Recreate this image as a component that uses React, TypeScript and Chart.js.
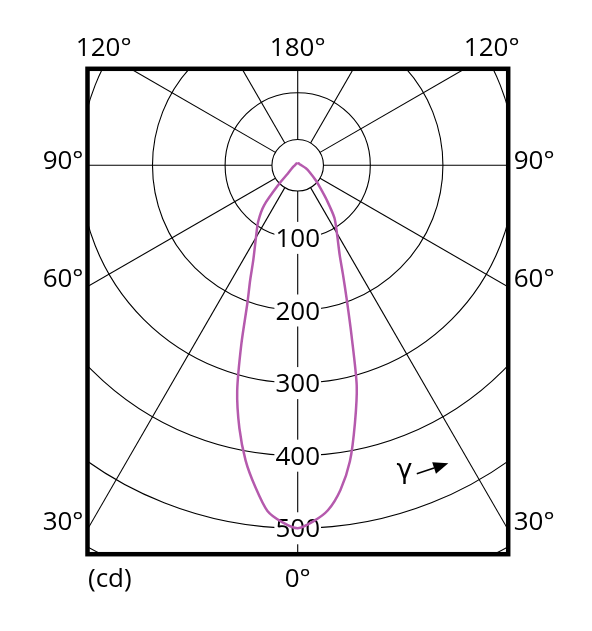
import React, { useEffect, useRef } from "react";
import { Chart, registerables } from "chart.js";

Chart.register(...registerables);

// Vertical angle gamma (deg, 0 = straight down) and luminous intensity (cd)
const ANGLES = [0, 2.5, 5, 7.5, 10, 12.5, 15, 17.5, 20, 22.5, 25, 30, 35, 40, 45, 50, 60, 70, 90, 120, 150, 180];
const CD_RIGHT = [500, 491, 477, 451, 414, 364, 314, 247, 198, 163, 137, 108, 88, 62, 44, 33, 19, 12, 5, 3, 3, 3];
const CD_LEFT = [500, 492, 478, 447, 413, 371, 322, 258, 203, 171, 145, 115, 95, 72, 36, 18, 10, 7, 4, 3, 3, 3];

// Polar grid
const RINGS = [100, 200, 300, 400, 500, 600];
const RING_LABELS = [100, 200, 300, 400, 500];
const HOLE_CD = 35.5;
const SPOKE_END_CD = 900;
const SPOKES = [0, 30, 60, 90, 120, 150, 180, 210, 240, 270, 300, 330];

// Angle labels
const SIDE_ANGLES = [90, 60, 30];
const SIDE_LABELS = ["90°", "60°", "30°"];
const SIDE_LABEL_DY = [4, 0, 0];
const TOP_LABELS = ["120°", "180°", "120°"];
const BOTTOM_LABEL = "0°";
const UNIT_LABEL = "(cd)";
const GAMMA_LABEL = "γ";

// Axis extents in cd
const X_MIN = -289.5;
const X_MAX = 289.9;
const Y_MIN = -535.7;
const Y_MAX = 132.9;

// gamma-arrow annotation (cd coordinates)
const GAMMA_POS = { x: 147, y: -421 };
const ARROW_FROM = { x: 164, y: -425 };
const ARROW_TO = { x: 207.4, y: -410.5 };

const CURVE_COLOR = "#b55aad";
const FONT = '500 26px "Open Sans", "Liberation Sans", sans-serif';

const rad = (d: number) => (d * Math.PI) / 180;

const polarPlugin = {
  id: "polarGrid",
  beforeDatasetsDraw(chart: any) {
    const { ctx, chartArea: a, scales } = chart;
    const xs = scales.x;
    const ys = scales.y;
    const cx = xs.getPixelForValue(0);
    const cy = ys.getPixelForValue(0);
    const r = (v: number) => xs.getPixelForValue(v) - cx;
    ctx.save();
    ctx.beginPath();
    ctx.rect(a.left, a.top, a.right - a.left, a.bottom - a.top);
    ctx.clip();
    ctx.strokeStyle = "#000";
    ctx.lineWidth = 1.1;
    [HOLE_CD, ...RINGS].forEach((ring) => {
      ctx.beginPath();
      ctx.arc(cx, cy, r(ring), 0, Math.PI * 2);
      ctx.stroke();
    });
    SPOKES.forEach((g) => {
      const s = Math.sin(rad(g));
      const c = Math.cos(rad(g));
      const r0 = r(HOLE_CD);
      const r1 = r(SPOKE_END_CD);
      ctx.beginPath();
      ctx.moveTo(cx + r0 * s, cy + r0 * c);
      ctx.lineTo(cx + r1 * s, cy + r1 * c);
      ctx.stroke();
    });
    ctx.font = FONT;
    ctx.textAlign = "center";
    ctx.textBaseline = "alphabetic";
    RING_LABELS.forEach((v) => {
      const ly = ys.getPixelForValue(-v);
      const w = ctx.measureText(String(v)).width;
      ctx.fillStyle = "#fff";
      ctx.fillRect(cx - w / 2 - 1, ly - 16, w + 2, 32);
      ctx.fillStyle = "#000";
      ctx.fillText(String(v), cx, ly + 9.2);
    });
    ctx.restore();
  },
  afterDatasetsDraw(chart: any) {
    const { ctx, chartArea: a, scales } = chart;
    const xs = scales.x;
    const ys = scales.y;
    const cx = xs.getPixelForValue(0);
    const cy = ys.getPixelForValue(0);
    ctx.save();
    // frame
    ctx.strokeStyle = "#000";
    ctx.lineWidth = 4.5;
    ctx.strokeRect(a.left, a.top, a.right - a.left, a.bottom - a.top);
    // angle labels
    ctx.fillStyle = "#000";
    ctx.font = FONT;
    ctx.textBaseline = "alphabetic";
    const halfW = a.right - cx;
    SIDE_ANGLES.forEach((g, i) => {
      const hitY = cy + (halfW * Math.cos(rad(g))) / Math.sin(rad(g));
      const by = hitY + SIDE_LABEL_DY[i];
      ctx.textAlign = "right";
      ctx.fillText(SIDE_LABELS[i], a.left - 4, by);
      ctx.textAlign = "left";
      ctx.fillText(SIDE_LABELS[i], a.right + 5.5, by);
    });
    ctx.textAlign = "center";
    ctx.fillText(TOP_LABELS[0], cx - 194, a.top - 13.3);
    ctx.fillText(TOP_LABELS[1], cx, a.top - 13.3);
    ctx.fillText(TOP_LABELS[2], cx + 194, a.top - 13.3);
    ctx.fillText(BOTTOM_LABEL, cx, a.bottom + 32.5);
    ctx.textAlign = "left";
    ctx.fillText(UNIT_LABEL, a.left + 0.5, a.bottom + 32.5);
    // gamma arrow
    ctx.font = '27px "DejaVu Sans", sans-serif';
    ctx.textAlign = "center";
    ctx.textBaseline = "middle";
    ctx.fillText(GAMMA_LABEL, xs.getPixelForValue(GAMMA_POS.x), ys.getPixelForValue(GAMMA_POS.y));
    const x0 = xs.getPixelForValue(ARROW_FROM.x);
    const y0 = ys.getPixelForValue(ARROW_FROM.y);
    const x1 = xs.getPixelForValue(ARROW_TO.x);
    const y1 = ys.getPixelForValue(ARROW_TO.y);
    const ang = Math.atan2(y1 - y0, x1 - x0);
    const headL = 15;
    const headW = 6;
    const bx = x1 - headL * Math.cos(ang);
    const by = y1 - headL * Math.sin(ang);
    ctx.lineWidth = 1.5;
    ctx.beginPath();
    ctx.moveTo(x0, y0);
    ctx.lineTo(bx, by);
    ctx.stroke();
    ctx.beginPath();
    ctx.moveTo(x1, y1);
    ctx.lineTo(bx + headW * Math.sin(ang), by - headW * Math.cos(ang));
    ctx.lineTo(bx - headW * Math.sin(ang), by + headW * Math.cos(ang));
    ctx.closePath();
    ctx.fill();
    ctx.restore();
  },
};

export default function App() {
  const ref = useRef<HTMLCanvasElement | null>(null);
  useEffect(() => {
    if (!ref.current) return;
    const left = ANGLES.map((g, i) => ({
      x: -CD_LEFT[i] * Math.sin(rad(g)),
      y: -CD_LEFT[i] * Math.cos(rad(g)),
    })).reverse();
    const right = ANGLES.slice(1).map((g, i) => ({
      x: CD_RIGHT[i + 1] * Math.sin(rad(g)),
      y: -CD_RIGHT[i + 1] * Math.cos(rad(g)),
    }));
    const chart = new Chart(ref.current, {
      type: "scatter",
      data: {
        datasets: [
          {
            data: [...left, ...right],
            showLine: true,
            borderColor: CURVE_COLOR,
            borderWidth: 2.5,
            pointRadius: 0,
            tension: 0.25,
            fill: false,
          } as any,
        ],
      },
      options: {
        animation: false,
        responsive: false,
        layout: { padding: { left: 87.5, right: 83.8, top: 68.8, bottom: 76.8 } },
        plugins: { legend: { display: false }, tooltip: { enabled: false } },
        scales: {
          x: { type: "linear", min: X_MIN, max: X_MAX, display: false },
          y: { type: "linear", min: Y_MIN, max: Y_MAX, display: false },
        },
      },
      plugins: [polarPlugin],
    });
    return () => chart.destroy();
  }, []);
  return (
    <div style={{ position: "fixed", left: 0, top: 0, width: 592, height: 631, background: "#fff" }}>
      <canvas ref={ref} width={592} height={631} style={{ display: "block" }} />
    </div>
  );
}
